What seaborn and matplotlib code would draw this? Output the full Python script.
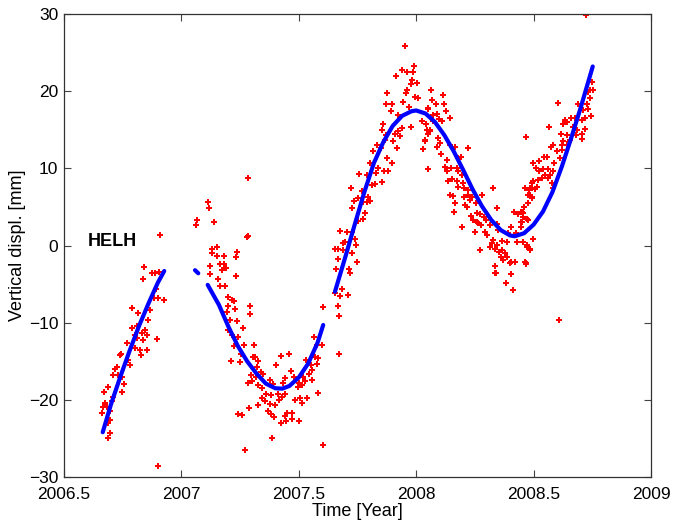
import numpy as np
import pandas as pd
import seaborn as sns
import matplotlib
matplotlib.use("Agg")
import matplotlib.pyplot as plt
from matplotlib.ticker import FormatStrFormatter

# daily GPS heights (red), one chunk per season
obs_t_2006 = [2006.909, 2006.842, 2006.835, 2006.876, 2006.888, 2006.905, 2006.890, 2006.885, 2006.899, 2006.927,
              2006.791, 2006.866, 2006.814, 2006.859, 2006.788, 2006.809, 2006.802, 2006.831, 2006.845, 2006.852,
              2006.895, 2006.838, 2006.809, 2006.767, 2006.802, 2006.824, 2006.852, 2006.828, 2006.743, 2006.738,
              2006.774, 2006.781, 2006.724, 2006.717, 2006.731, 2006.746, 2006.757, 2006.710, 2006.689, 2006.672,
              2006.746, 2006.710, 2006.703, 2006.675, 2006.667, 2006.682, 2006.663, 2006.696, 2006.696, 2006.689,
              2006.696, 2006.686, 2006.902]
obs_mm_2006 = [1.4, -2.8, -4.4, -3.5, -3.5, -3.4, -5.7, -6.8, -6.8, -7.0,
               -8.1, -8.4, -8.8, -9.6, -10.7, -10.4, -11.6, -11.4, -11.0, -11.6,
               -12.1, -12.2, -12.0, -12.6, -13.3, -13.6, -13.5, -14.2, -14.0, -14.2,
               -14.8, -15.5, -15.7, -16.0, -16.8, -17.0, -17.9, -16.8, -18.3, -19.0,
               -19.0, -19.6, -20.2, -20.4, -20.9, -20.9, -21.7, -21.5, -22.6, -23.0,
               -24.3, -24.9, -28.6]

obs_t_2007a = [2007.282, 2007.112, 2007.117, 2007.068, 2007.061, 2007.139, 2007.282, 2007.278, 2007.153, 2007.132,
               2007.129, 2007.238, 2007.233, 2007.150, 2007.183, 2007.123, 2007.164, 2007.183, 2007.174, 2007.189,
               2007.123, 2007.231, 2007.157, 2007.164, 2007.186, 2007.200, 2007.214, 2007.225, 2007.197, 2007.228,
               2007.294, 2007.292, 2007.193, 2007.207, 2007.238, 2007.264, 2007.197, 2007.214, 2007.243, 2007.225,
               2007.268, 2007.311, 2007.254, 2007.211, 2007.250, 2007.306, 2007.314, 2007.325, 2007.321, 2007.401,
               2007.424, 2007.460, 2007.339, 2007.349, 2007.296, 2007.316, 2007.285, 2007.299, 2007.325, 2007.342,
               2007.377, 2007.392, 2007.441, 2007.434, 2007.467, 2007.481, 2007.501, 2007.495, 2007.512, 2007.526]
obs_mm_2007a = [8.8, 5.7, 4.8, 3.3, 2.7, 3.1, 1.2, 1.1, -0.2, -0.5,
                -1.0, -0.9, -1.5, -1.4, -1.3, -2.7, -2.4, -2.4, -3.2, -2.9,
                -3.7, -4.0, -4.4, -5.3, -5.3, -6.7, -7.1, -7.2, -7.9, -8.2,
                -7.8, -8.9, -8.6, -9.6, -9.8, -10.7, -11.0, -11.6, -11.8, -13.0,
                -12.9, -12.9, -14.0, -15.0, -15.1, -14.4, -14.5, -15.0, -15.7, -15.5,
                -14.3, -14.0, -16.4, -16.6, -16.8, -17.0, -17.8, -17.5, -18.1, -18.5,
                -17.4, -17.9, -17.2, -17.8, -16.3, -17.0, -17.8, -18.3, -18.1, -17.6]

obs_t_2007b = [2007.519, 2007.543, 2007.555, 2007.558, 2007.552, 2007.576, 2007.583, 2007.569, 2007.529, 2007.576,
               2007.566, 2007.597, 2007.605, 2007.359, 2007.345, 2007.382, 2007.413, 2007.427, 2007.416, 2007.441,
               2007.356, 2007.377, 2007.328, 2007.289, 2007.399, 2007.370, 2007.382, 2007.396, 2007.448, 2007.441,
               2007.472, 2007.484, 2007.505, 2007.534, 2007.512, 2007.470, 2007.501, 2007.424, 2007.444, 2007.243,
               2007.260, 2007.583, 2007.387, 2007.271, 2007.602]
obs_mm_2007b = [-17.0, -16.6, -17.4, -16.1, -15.5, -15.3, -14.6, -14.4, -14.8, -12.9,
                -11.8, -12.9, -8.0, -19.2, -19.7, -19.4, -19.2, -19.6, -20.0, -19.2,
                -20.1, -20.6, -20.7, -21.1, -20.7, -21.4, -21.8, -22.2, -21.7, -22.1,
                -21.7, -20.0, -19.7, -19.8, -20.4, -22.5, -22.7, -23.0, -22.8, -21.8,
                -22.0, -19.1, -25.0, -26.5, -25.9]

obs_t_2007c = [2007.952, 2007.991, 2007.914, 2007.938, 2007.962, 2007.988, 2007.984, 2008.002, 2007.978, 2007.959,
               2007.957, 2007.995, 2008.006, 2008.062, 2008.069, 2007.877, 2007.871, 2007.896, 2007.942, 2007.971,
               2007.891, 2007.921, 2008.049, 2008.023, 2008.042, 2008.070, 2008.059, 2008.052, 2008.038, 2008.030,
               2008.050, 2007.976, 2007.938, 2007.924, 2007.910, 2007.931, 2007.903, 2007.917, 2007.860, 2007.871,
               2007.853, 2007.867, 2007.832, 2007.817, 2007.850, 2007.874, 2007.898, 2007.864, 2007.878, 2007.803,
               2007.836, 2007.827, 2007.789, 2007.758, 2007.853, 2007.810, 2007.825, 2007.722, 2007.771, 2007.796,
               2007.789, 2007.803, 2007.754, 2007.775, 2007.737, 2007.725, 2007.782, 2007.775, 2007.754, 2007.676,
               2007.704, 2007.725, 2007.739, 2007.697, 2007.690, 2007.742, 2007.654, 2007.666, 2007.666, 2007.690,
               2007.725, 2007.749, 2007.657, 2007.718, 2007.654, 2007.683, 2007.676, 2007.711, 2007.666, 2007.673,
               2007.670, 2007.715, 2007.675]
obs_mm_2007c = [25.9, 23.3, 22.0, 22.7, 22.5, 22.5, 21.5, 21.1, 20.9, 20.2,
                19.7, 19.3, 19.1, 20.2, 18.9, 19.8, 18.3, 18.3, 18.6, 18.0,
                17.4, 16.9, 17.8, 16.1, 15.7, 16.1, 15.0, 14.5, 13.5, 12.5,
                9.9, 15.4, 15.2, 14.8, 14.5, 14.2, 13.5, 12.6, 15.7, 14.3,
                15.0, 13.7, 13.0, 12.3, 12.6, 11.3, 10.7, 9.6, 9.7, 10.7,
                10.1, 9.4, 9.1, 9.3, 8.2, 7.9, 8.0, 7.4, 7.1, 6.3,
                5.7, 5.8, 6.1, 5.6, 5.8, 4.9, 4.2, 3.4, 3.2, 1.9,
                1.8, 1.8, 0.9, 0.5, 0.3, 0.1, -0.5, -0.5, -1.7, -0.6,
                -1.0, -2.1, -3.1, -3.5, -6.2, -5.7, -6.6, -6.4, -7.9, -9.1,
                -14.0, -3.0, -6.6]

obs_t_2008a = [2008.062, 2008.116, 2008.069, 2008.084, 2008.120, 2008.126, 2008.052, 2008.073, 2008.087, 2008.099,
               2008.108, 2008.144, 2008.045, 2008.059, 2008.038, 2008.094, 2008.101, 2008.090, 2008.144, 2008.165,
               2008.222, 2008.106, 2008.179, 2008.191, 2008.133, 2008.123, 2008.148, 2008.050, 2008.175, 2008.179,
               2008.194, 2008.130, 2008.151, 2008.172, 2008.201, 2008.134, 2008.179, 2008.205, 2008.222, 2008.144,
               2008.158, 2008.326, 2008.219, 2008.205, 2008.236, 2008.279, 2008.165, 2008.208, 2008.215, 2008.229,
               2008.253, 2008.343, 2008.162, 2008.233, 2008.258, 2008.272, 2008.290, 2008.243, 2008.258, 2008.265,
               2008.297, 2008.197, 2008.276, 2008.314, 2008.343, 2008.250, 2008.293, 2008.300, 2008.350, 2008.272]
obs_mm_2008a = [20.2, 19.5, 18.8, 18.3, 18.3, 17.4, 17.7, 16.9, 17.0, 16.4,
                16.1, 16.5, 15.0, 14.8, 13.7, 13.9, 13.3, 12.8, 13.0, 12.8,
                12.7, 11.8, 11.3, 11.5, 11.1, 10.2, 10.0, 9.9, 10.0, 9.6,
                9.1, 9.6, 8.6, 8.3, 8.1, 8.3, 7.6, 7.4, 7.2, 6.6,
                6.4, 7.5, 6.6, 6.3, 6.3, 6.6, 5.5, 5.3, 5.0, 5.9,
                5.5, 4.8, 4.3, 3.8, 4.2, 4.1, 3.7, 3.3, 3.1, 2.9,
                3.3, 2.4, 2.6, 2.7, 2.8, 1.7, 1.8, 1.4, 2.0, -0.6]

obs_t_2008b = [2008.329, 2008.364, 2008.385, 2008.404, 2008.418, 2008.435, 2008.449, 2008.454, 2008.445, 2008.459,
               2008.471, 2008.478, 2008.463, 2008.485, 2008.478, 2008.495, 2008.492, 2008.499, 2008.466, 2008.314,
               2008.321, 2008.343, 2008.336, 2008.353, 2008.367, 2008.378, 2008.361, 2008.385, 2008.371, 2008.404,
               2008.421, 2008.336, 2008.338, 2008.463, 2008.404, 2008.381, 2008.411, 2008.428, 2008.390, 2008.424,
               2008.471, 2008.485, 2008.499, 2008.336, 2008.399, 2008.422, 2008.466, 2008.402]
obs_mm_2008b = [0.7, 0.6, 0.5, 2.4, 4.4, 4.1, 4.3, 3.7, 3.1, 5.0,
                3.5, 5.5, 7.5, 7.4, 6.6, 6.3, 8.1, 10.7, 14.1, -0.2,
                0.3, 0.1, -0.5, -0.8, -0.6, -1.0, -1.5, -1.5, -1.9, -2.1,
                -2.2, -2.7, -3.5, -2.2, -3.7, -4.8, -5.8, 0.4, 1.6, 1.6,
                0.1, -0.6, 0.9, -3.5, -2.3, -2.2, -2.4, -3.7]

obs_t_2008c = [2008.722, 2008.747, 2008.740, 2008.751, 2008.733, 2008.740, 2008.726, 2008.743, 2008.733, 2008.719,
               2008.705, 2008.690, 2008.709, 2008.676, 2008.658, 2008.634, 2008.627, 2008.641, 2008.666, 2008.686,
               2008.719, 2008.705, 2008.705, 2008.681, 2008.641, 2008.655, 2008.615, 2008.567, 2008.605, 2008.627,
               2008.619, 2008.641, 2008.581, 2008.573, 2008.598, 2008.619, 2008.651, 2008.612, 2008.588, 2008.556,
               2008.546, 2008.524, 2008.499, 2008.510, 2008.539, 2008.563, 2008.524, 2008.570, 2008.584, 2008.548,
               2008.534, 2008.520, 2008.563, 2008.499, 2008.577, 2008.513, 2008.506, 2008.492, 2008.581, 2008.463,
               2008.480, 2008.485, 2008.492, 2008.475, 2008.460, 2008.446, 2008.453, 2008.477, 2008.449, 2008.445,
               2008.456, 2008.473, 2008.485, 2008.468, 2008.608]
obs_mm_2008c = [29.9, 21.2, 20.2, 20.2, 19.9, 19.1, 18.3, 16.8, 17.7, 16.5,
                16.3, 18.4, 17.6, 16.5, 16.5, 16.3, 15.7, 16.0, 15.4, 15.0,
                15.1, 14.5, 13.8, 14.3, 14.3, 13.7, 14.4, 15.3, 18.5, 13.5,
                13.0, 13.0, 13.0, 12.8, 12.2, 12.4, 13.4, 11.3, 10.7, 11.5,
                11.5, 10.9, 10.7, 10.1, 9.9, 9.9, 9.6, 9.2, 9.6, 9.1,
                8.7, 8.5, 8.7, 8.3, 8.1, 7.6, 7.3, 7.5, 7.4, 7.4,
                7.2, 6.6, 6.1, 5.5, 5.0, 4.4, 4.2, 3.3, 3.1, 2.4,
                0.5, -0.2, -0.5, -2.3, -9.7]

# fitted model (blue), split where the curve has gaps
fit_t_a = [2006.665, 2006.70, 2006.74, 2006.78, 2006.82, 2006.86, 2006.90, 2006.927]
fit_mm_a = [-24.2, -20.6, -17.0, -13.6, -10.4, -7.5, -4.8, -3.3]
fit_t_b = [2007.058, 2007.072]
fit_mm_b = [-3.2, -3.6]
fit_t_c = [2007.112, 2007.16, 2007.20, 2007.24, 2007.28, 2007.32, 2007.36, 2007.40, 2007.43, 2007.46,
           2007.50, 2007.54, 2007.58, 2007.604]
fit_mm_c = [-5.1, -7.7, -10.5, -13.0, -15.0, -16.6, -17.9, -18.5, -18.55, -18.2,
            -17.1, -15.3, -12.6, -10.3]
fit_t_d = [2007.654, 2007.70, 2007.74, 2007.78, 2007.82, 2007.86, 2007.90, 2007.94, 2007.98, 2008.00,
           2008.04, 2008.08, 2008.12, 2008.16, 2008.20, 2008.24, 2008.28, 2008.32, 2008.36, 2008.40,
           2008.42, 2008.46, 2008.50, 2008.54, 2008.58, 2008.62, 2008.66, 2008.70, 2008.752]
fit_mm_d = [-6.0, -1.3, 2.9, 7.0, 10.7, 13.4, 15.5, 16.8, 17.4, 17.5,
            17.1, 16.0, 14.3, 12.2, 9.8, 7.3, 5.1, 3.3, 2.0, 1.3,
            1.2, 1.6, 2.7, 4.4, 6.9, 10.2, 13.9, 17.8, 23.2]

station = "HELH"

obs = pd.DataFrame({
    "t": obs_t_2006 + obs_t_2007a + obs_t_2007b + obs_t_2007c + obs_t_2008a + obs_t_2008b + obs_t_2008c,
    "mm": obs_mm_2006 + obs_mm_2007a + obs_mm_2007b + obs_mm_2007c + obs_mm_2008a + obs_mm_2008b + obs_mm_2008c,
})
fits = [(fit_t_a, fit_mm_a), (fit_t_b, fit_mm_b), (fit_t_c, fit_mm_c), (fit_t_d, fit_mm_d)]

sns.set_style("ticks")
plt.rcParams["font.family"] = ["Liberation Sans", "DejaVu Sans"]
plt.rcParams["xtick.direction"] = "in"
plt.rcParams["ytick.direction"] = "in"

fig = plt.figure(figsize=(6.75, 5.31), dpi=100)
ax = fig.add_axes([0.0948, 0.1017, 0.8696, 0.8719])

sns.scatterplot(data=obs, x="t", y="mm", ax=ax, color="red", marker="P", s=19,
                linewidth=0, legend=False, zorder=2)
for ft, fm in fits:
    sns.lineplot(x=ft, y=fm, ax=ax, color="blue", linewidth=3.0, sort=False,
                 estimator=None, zorder=3)

ax.text(2006.602, 0.5, station, fontsize=13, fontweight="bold", ha="left", va="center", color="black")

ax.set_xlim(2006.5, 2009)
ax.set_ylim(-30, 30)
ax.set_xticks(np.arange(2006.5, 2009.01, 0.5))
ax.set_yticks(np.arange(-30, 31, 10))
ax.xaxis.set_major_formatter(FormatStrFormatter("%g"))
ax.tick_params(axis="both", labelsize=12.5, length=5, width=0.8, color="#444444",
               labelcolor="black", top=True, right=True)
ax.tick_params(axis="x", pad=7)
ax.tick_params(axis="y", pad=4)
for s in ax.spines.values():
    s.set_visible(True)
    s.set_linewidth(0.9)
    s.set_color("#333333")

ax.set_xlabel("Time [Year]", fontsize=13, labelpad=1, color="black")
ax.set_ylabel("Vertical displ. [mm]", fontsize=13, labelpad=2, color="black")

fig.savefig("out.png", dpi=100)
